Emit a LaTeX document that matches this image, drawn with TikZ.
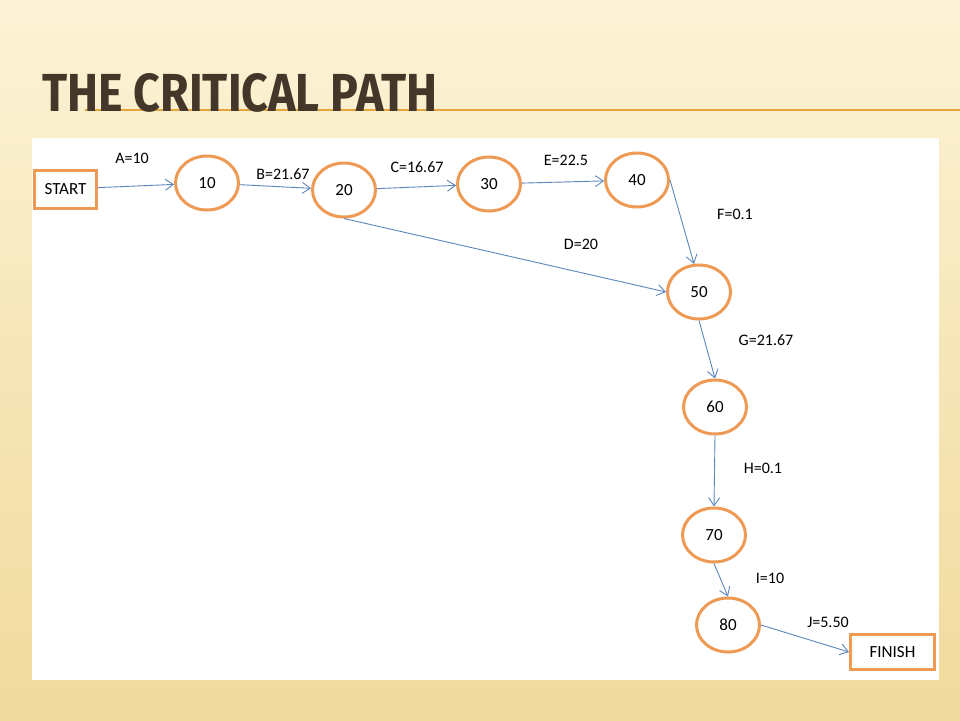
\documentclass[tikz,border=0pt]{standalone}
\usepackage{fontspec}
\setmainfont{Carlito}
\newfontfamily\titlefont{Fira Sans}
\usetikzlibrary{shapes.geometric,arrows.meta}
\definecolor{evorange}{HTML}{EE9A55}
\definecolor{actblue}{HTML}{5B86BE}
\definecolor{titlebrown}{HTML}{45362A}
\definecolor{ruleorange}{HTML}{E6A43C}
\definecolor{slidetop}{HTML}{FCF3D6}
\definecolor{slidebot}{HTML}{F0DA9C}

\tikzset{
	event/.style={ellipse,draw=evorange,line width=3pt,fill=white,minimum width=63pt,minimum height=54pt,inner sep=0pt,font=\fontsize{17}{20}\selectfont},
	endbox/.style={rectangle,draw=evorange,line width=3pt,fill=white,inner sep=0pt,font=\fontsize{17}{20}\selectfont},
	act/.style={draw=actblue,line width=0.9pt,-{Straight Barb[length=8pt,width=11pt]}},
	actlabel/.style={inner sep=0pt,font=\fontsize{16}{19}\selectfont}
}

\begin{document}
\begin{tikzpicture}[x=1pt,y=-1pt]
%slide background and panel
\shade[top color=slidetop,bottom color=slidebot] (0,0) rectangle (960,720);
\useasboundingbox (0,0) rectangle (960,720);
\draw[ruleorange,line width=1.5pt] (85,110) -- (960,110);
\node[anchor=south west,inner sep=0pt,text=titlebrown] (title) at (42,113) {\resizebox{395pt}{38pt}{\titlefont\bfseries THE CRITICAL PATH}};
\fill[white] (32,138) rectangle (939,680);

%start and finish
\node[endbox,minimum width=62pt,minimum height=38pt] (start) at (65.5,189) {START};
\node[endbox,minimum width=84pt,minimum height=35pt] (finish) at (892.5,652) {FINISH};

%put the events
\foreach \n/\x/\y in {10/207/183,20/344/190,30/489/184,40/637/180,50/699/292,60/715/407,70/714/535,80/728/625}{
	\node[event] (e\n) at (\x,\y) {\n};
}

%activities
\draw[act] (start) -- (e10);
\draw[act] (e10) -- (e20);
\draw[act] (e20) -- (e30);
\draw[act] (e30) -- (e40);
\draw[act] (e40.east) -- (e50.100);
\draw[act] (e20.south) -- (e50.west);
\draw[act] (e50.south) -- (e60.north);
\draw[act] (e60.south) -- (e70.north);
\draw[act] (e70.south) -- (e80.north);
\draw[act] (e80.east) -- (finish.west);

%activity labels
\node[actlabel] (la) at (132,158) {A=10};
\node[actlabel] (lb) at (283,174) {B=21.67};
\node[actlabel] (lc) at (417,167) {C=16.67};
\node[actlabel] (ld) at (581,244) {D=20};
\node[actlabel] (le) at (566,160) {E=22.5};
\node[actlabel] (lf) at (735,214) {F=0.1};
\node[actlabel] (lg) at (766,340) {G=21.67};
\node[actlabel] (lh) at (763,468) {H=0.1};
\node[actlabel] (li) at (770,578) {I=10};
\node[actlabel] (lj) at (828,622) {J=5.50};
\end{tikzpicture}
\end{document}
